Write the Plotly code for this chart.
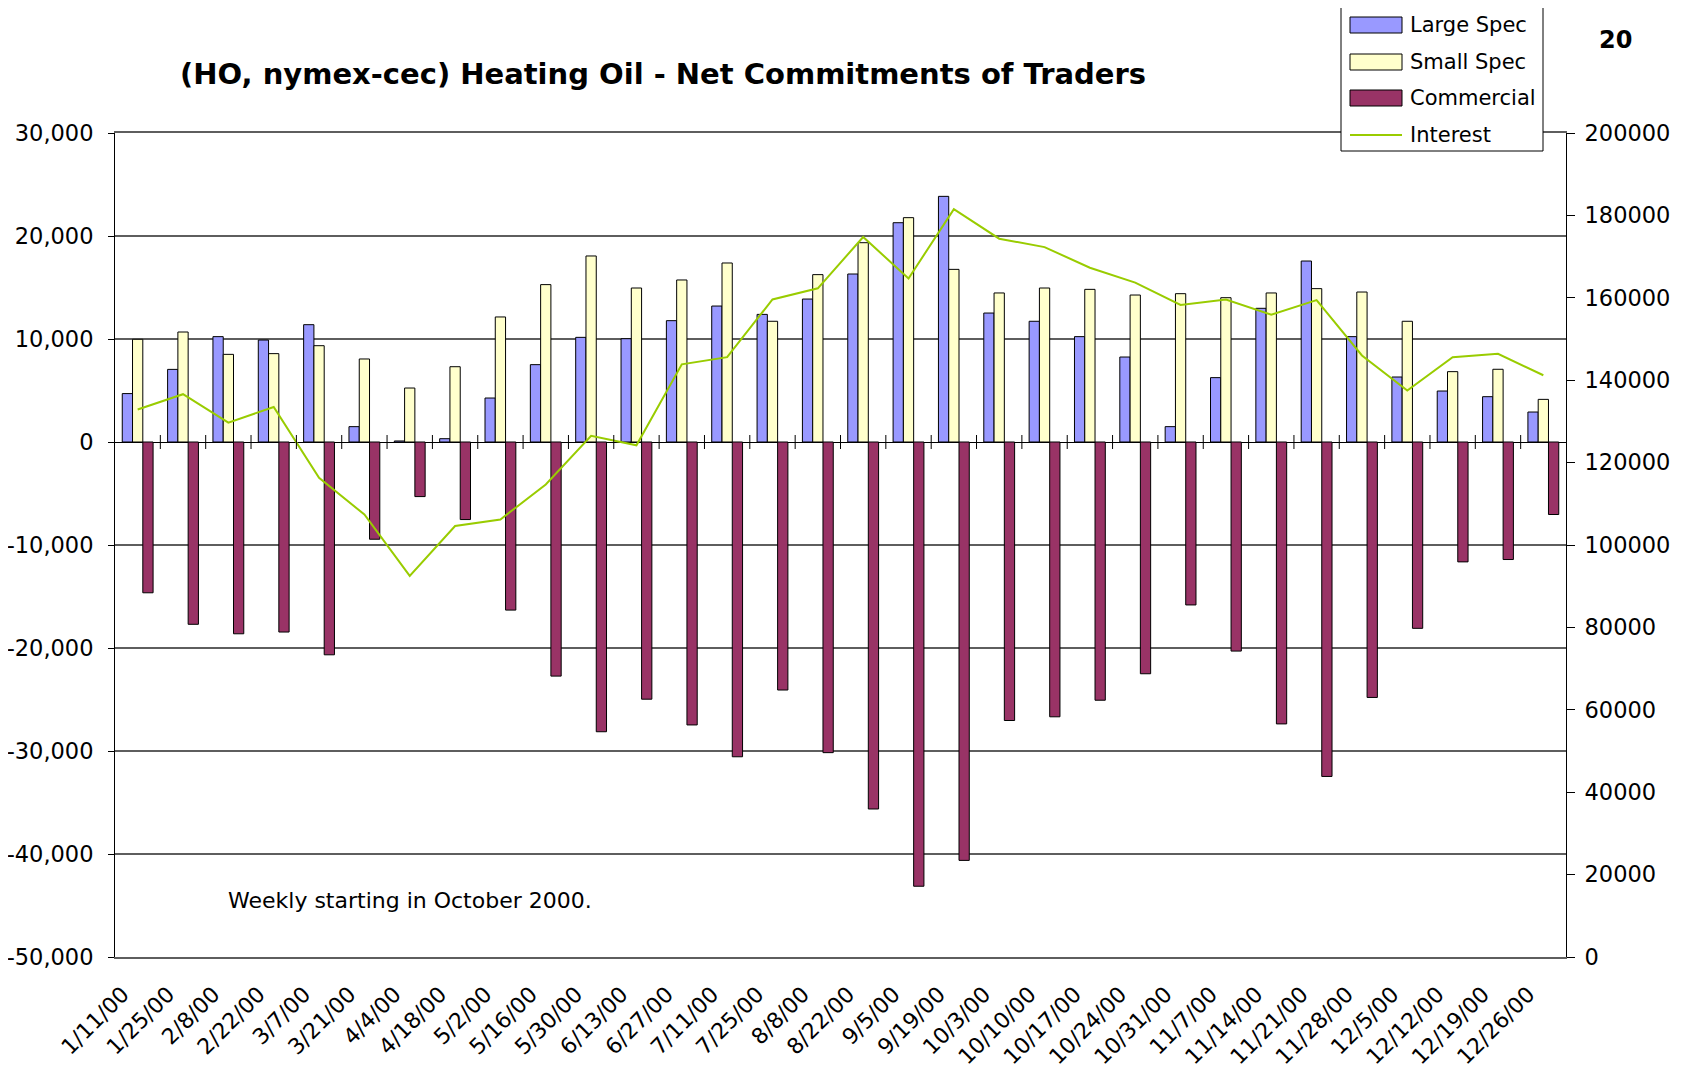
import plotly.graph_objects as go

# ---------------- data ----------------
dates = ["1/11/00", "1/25/00", "2/8/00", "2/22/00", "3/7/00", "3/21/00", "4/4/00", "4/18/00",
         "5/2/00", "5/16/00", "5/30/00", "6/13/00", "6/27/00", "7/11/00", "7/25/00", "8/8/00",
         "8/22/00", "9/5/00", "9/19/00", "10/3/00", "10/10/00", "10/17/00", "10/24/00", "10/31/00",
         "11/7/00", "11/14/00", "11/21/00", "11/28/00", "12/5/00", "12/12/00", "12/19/00", "12/26/00"]

large_spec = [4700, 7050, 10230, 9900, 11390, 1490, 100, 320, 4270, 7510, 10160, 10030,
              11780, 13200, 12390, 13880, 16310, 21290, 23850, 12520, 11720, 10230, 8250, 1490,
              6250, 12980, 17570, 10230, 6310, 4950, 4400, 2910]

small_spec = [9970, 10680, 8510, 8580, 9350, 8060, 5240, 7310, 12140, 15280, 18060, 14950,
              15730, 17380, 11720, 16250, 19350, 21780, 16760, 14470, 14950, 14820, 14270, 14400,
              14010, 14470, 14890, 14560, 11720, 6830, 7060, 4140]

commercial = [-14640, -17700, -18620, -18450, -20660, -9440, -5300, -7530, -16320, -22730,
              -28130, -24970, -27470, -30560, -24080, -30160, -35630, -43130, -40620, -27040,
              -26680, -25070, -22500, -15820, -20300, -27370, -32470, -24800, -18090, -11640,
              -11410, -7040]

interest = [132900, 136600, 129700, 133500, 116300, 107400, 92500, 104600, 106200, 114700,
            126500, 124200, 143850, 145600, 159600, 162300, 174750, 164700, 181500, 174350,
            172300, 167300, 163700, 158250, 159600, 155900, 159450, 146000, 137500, 145600,
            146400, 141200]

left_tick_vals = [-50000, -40000, -30000, -20000, -10000, 0, 10000, 20000, 30000]
left_tick_text = ["-50,000", "-40,000", "-30,000", "-20,000", "-10,000", "0",
                  "10,000", "20,000", "30,000"]
right_tick_vals = [0, 20000, 40000, 60000, 80000, 100000, 120000, 140000, 160000, 180000, 200000]

series_names = ["Large Spec", "Small Spec", "Commercial", "Interest"]
series_colors = ["#9999FF", "#FFFFCC", "#993366", "#99CC00"]

# ---------------- layout geometry ----------------
# page coordinates; the html body adds an 8px margin around the figure
OFF = 8
W_FIG, H_FIG = 1685 - OFF, 1074 - OFF
L, R, T, B = 115, 1566, 133, 957          # plot area in page pixels
PW, PH = R - L, B - T
FONT = "DejaVu Sans, Verdana, sans-serif"


def px_x(px):
    return (px - L) / PW


def px_y(py):
    return (B - py) / PH


fig = go.Figure()

for name, vals, col in zip(series_names[:3], [large_spec, small_spec, commercial], series_colors[:3]):
    fig.add_trace(go.Bar(
        x=dates, y=vals, name=name,
        marker=dict(color=col, line=dict(color="#000000", width=1)),
        yaxis="y", showlegend=False,
    ))

fig.add_trace(go.Scatter(
    x=dates, y=interest, name=series_names[3], mode="lines",
    line=dict(color=series_colors[3], width=2),
    yaxis="y2", showlegend=False,
))

# cross tick marks on the category axis at y = 0 (category boundaries)
shapes = []
for i in range(1, len(dates)):
    shapes.append(dict(type="line", xref="x", x0=i - 0.5, x1=i - 0.5,
                       yref="y", ysizemode="pixel", yanchor=0, y0=-7, y1=7,
                       line=dict(color="#000000", width=1), layer="above"))

# legend box drawn by hand to match the original's large swatches
lg_x0, lg_x1, lg_y0, lg_y1 = 1341, 1543, 5, 151
shapes.append(dict(type="rect", xref="paper", yref="paper",
                   x0=px_x(lg_x0), x1=px_x(lg_x1), y0=px_y(lg_y1), y1=px_y(lg_y0),
                   line=dict(color="#000000", width=1), fillcolor="#FFFFFF", layer="above"))
item_y = [25, 62, 98, 135]
annotations = []
for k, (nm, col) in enumerate(zip(series_names, series_colors)):
    yc = item_y[k]
    if k < 3:
        shapes.append(dict(type="rect", xref="paper", yref="paper",
                           x0=px_x(1350), x1=px_x(1402), y0=px_y(yc + 8), y1=px_y(yc - 8),
                           line=dict(color="#000000", width=1), fillcolor=col, layer="above"))
    else:
        shapes.append(dict(type="line", xref="paper", yref="paper",
                           x0=px_x(1350), x1=px_x(1402), y0=px_y(yc), y1=px_y(yc),
                           line=dict(color=col, width=2), layer="above"))
    annotations.append(dict(text=nm, xref="paper", yref="paper", x=px_x(1408), y=px_y(yc),
                            xanchor="left", yanchor="middle", showarrow=False,
                            font=dict(family=FONT, size=21, color="#000000")))

annotations.append(dict(text="20", xref="paper", yref="paper", x=px_x(1615), y=px_y(40),
                        xanchor="center", yanchor="middle", showarrow=False,
                        font=dict(family=FONT, size=24, color="#000000", weight="bold")))
annotations.append(dict(text="Weekly starting in October 2000.", xref="paper", yref="paper",
                        x=px_x(410), y=px_y(900), xanchor="center", yanchor="middle",
                        showarrow=False, font=dict(family=FONT, size=22, color="#000000")))

grid_col = "#5e5e5e"
tick_font = dict(family=FONT, size=22.5, color="#000000")

fig.update_layout(
    width=W_FIG, height=H_FIG, autosize=False,
    margin=dict(l=L - OFF, r=W_FIG - (R - OFF), t=T - OFF, b=H_FIG - (B - OFF), pad=0,
                autoexpand=False),
    paper_bgcolor="#FFFFFF", plot_bgcolor="#FFFFFF",
    barmode="group", bargap=0.32, bargroupgap=0.0,
    title=dict(text="(HO, nymex-cec) Heating Oil - Net Commitments of Traders",
               x=(663 - OFF) / W_FIG, xanchor="center", y=1 - (74 - OFF) / H_FIG, yanchor="middle",
               font=dict(family=FONT, size=29, color="#000000", weight="bold")),
    xaxis=dict(type="category", range=[-0.5, len(dates) - 0.5], automargin=False,
               showgrid=False, ticks="", showline=True, linecolor=grid_col, linewidth=1.5,
               mirror=True, tickangle=-45, ticklabelstandoff=14, ticklabelshift=-15,
               tickfont=dict(family=FONT, size=22, color="#000000")),
    yaxis=dict(range=[-50000, 30000], tickmode="array", tickvals=left_tick_vals,
               ticktext=left_tick_text, ticklabelstandoff=10, automargin=False,
               showgrid=True, gridcolor=grid_col, gridwidth=1.5,
               zeroline=True, zerolinecolor="#000000", zerolinewidth=1,
               showline=True, linecolor="#000000", linewidth=1,
               ticks="outside", ticklen=6, tickcolor="#000000", tickfont=tick_font),
    yaxis2=dict(range=[0, 200000], tickmode="array", tickvals=right_tick_vals,
                tickformat="d", overlaying="y", side="right", ticklabelstandoff=5,
                automargin=False, showgrid=False, zeroline=False,
                showline=True, linecolor="#000000", linewidth=1,
                ticks="outside", ticklen=8, tickcolor="#000000", tickfont=tick_font),
    shapes=shapes, annotations=annotations, showlegend=False,
)

fig.write_html("out.html")
